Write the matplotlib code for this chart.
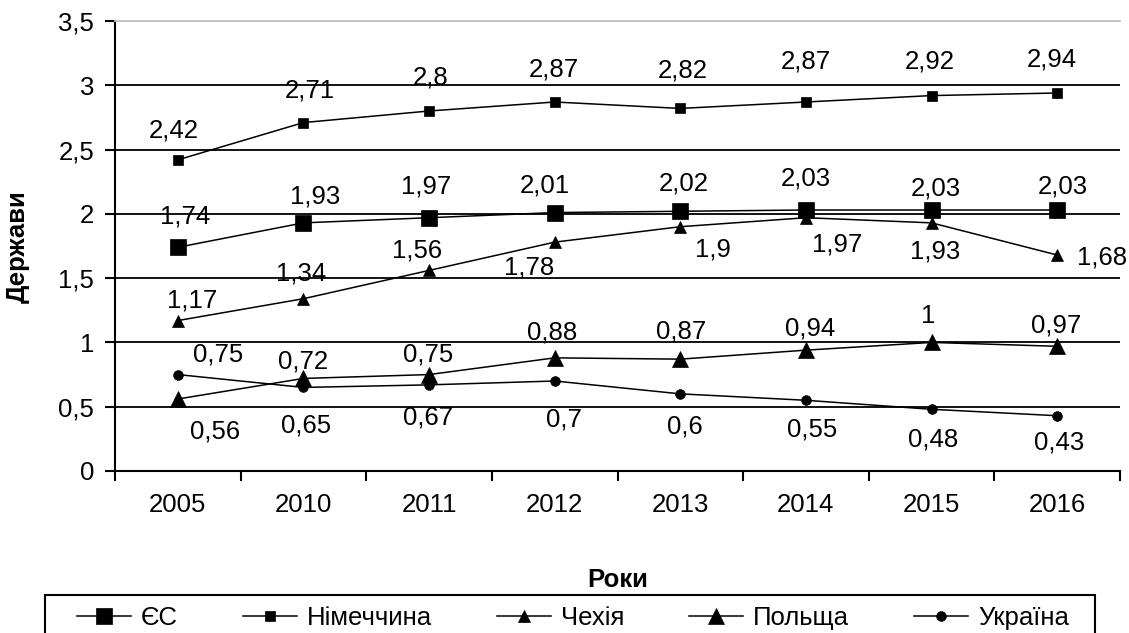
import matplotlib
matplotlib.use("Agg")
import matplotlib.pyplot as plt
import numpy as np
from matplotlib.patches import Rectangle

plt.rcParams['font.family'] = ['Liberation Sans', 'DejaVu Sans']

years = ['2005', '2010', '2011', '2012', '2013', '2014', '2015', '2016']
eu = [1.74, 1.93, 1.97, 2.01, 2.02, 2.03, 2.03, 2.03]
germany = [2.42, 2.71, 2.8, 2.87, 2.82, 2.87, 2.92, 2.94]
czech = [1.17, 1.34, 1.56, 1.78, 1.9, 1.97, 1.93, 1.68]
poland = [0.56, 0.72, 0.75, 0.88, 0.87, 0.94, 1, 0.97]
ukraine = [0.75, 0.65, 0.67, 0.7, 0.6, 0.55, 0.48, 0.43]

# where each value label sits relative to its point, pixels (right, down)
eu_off = [(7, -31), (12, -26), (-3, -31), (-10, -27), (3, -28), (0, -32), (4, -22), (6, -24)]
de_off = [(-4, -29), (6, -32), (2, -34), (-1, -33), (2, -38), (0, -41), (-2, -34), (-5, -34)]
cz_off = [(14, -20), (-2, -25), (-12, -20), (-26, 25), (33, 23), (31, 27), (4, 29), (45, 2)]
pl_off = [(37, 33), (0, -17), (-1, -20), (-3, -25), (1, -28), (4, -22), (-3, -26), (-1, -21)]
ua_off = [(40, -20), (3, 38), (-1, 33), (9, 38), (5, 33), (6, 29), (2, 30), (2, 27)]


def fmt(v):
    return ('%g' % v).replace('.', ',')


FS = 18.5
W, H = 1129, 633
fig = plt.figure(figsize=(W / 100, H / 100), dpi=100)
ax = fig.add_axes([115 / W, 1 - 471 / H, (1120 - 115) / W, 450 / H])

x = np.arange(len(years))
series = [
    ('ЄС', eu, 's', 12, eu_off),
    ('Німеччина', germany, 's', 7, de_off),
    ('Чехія', czech, '^', 9, cz_off),
    ('Польща', poland, '^', 12, pl_off),
    ('Україна', ukraine, 'o', 7, ua_off),
]

handles = []
for name, vals, mk, ms, offs in series:
    ln, = ax.plot(x, vals, color='black', lw=1.1, marker=mk, ms=ms,
                  mec='black', mfc='black', mew=0.5, label=name, zorder=3)
    handles.append(ln)
    for xi, v, (dx, dy) in zip(x, vals, offs):
        ax.annotate(fmt(v), (xi, v), xytext=(dx, -dy), textcoords='offset pixels',
                    ha='center', va='center', fontsize=FS, zorder=4)

ax.set_xlim(-0.5, 7.5)
ax.set_ylim(0, 3.5)

ax.set_xticks(np.arange(-0.5, 8, 1))
ax.set_xticklabels([])
ax.set_xticks(x, minor=True)
ax.set_xticklabels(years, minor=True)
ax.tick_params(axis='x', which='major', direction='out', length=7, width=1.5)
ax.tick_params(axis='x', which='minor', length=0, pad=16, labelsize=FS)

yt = np.arange(0, 3.51, 0.5)
ax.set_yticks(yt)
ax.set_yticklabels([fmt(v) for v in yt])
ax.tick_params(axis='y', direction='out', length=7, width=1.5, pad=8, labelsize=FS)

ax.set_axisbelow(True)
ax.grid(axis='y', color='black', lw=1.3)
ax.get_ygridlines()[-1].set_color('#c0c0c0')

ax.spines['right'].set_visible(False)
ax.spines['top'].set_color('#c0c0c0')
ax.spines['top'].set_linewidth(1.3)
ax.spines['left'].set_linewidth(1.5)
ax.spines['bottom'].set_linewidth(1.5)

fig.text(618 / W, 1 - 580 / H, 'Роки', fontsize=FS, fontweight='bold',
         ha='center', va='center')
fig.text(18 / W, 1 - 247 / H, 'Держави', fontsize=FS, fontweight='bold',
         rotation=90, ha='center', va='center')

# legend box (runs off the bottom of the picture like the original)
fig.patches.append(Rectangle((45 / W, -20 / H), 1050 / W, (633 - 595 + 20) / H,
                             transform=fig.transFigure, fill=False,
                             edgecolor='black', lw=1.5))
fig.legend(handles=handles, loc='upper left', ncol=5, mode='expand',
           bbox_to_anchor=(68 / W, 1 - 597 / H, 1010 / W, 0),
           borderaxespad=0, fontsize=FS, frameon=False,
           handlelength=2.1, handletextpad=0.4, borderpad=0.35,
           numpoints=1)

fig.savefig('out.png', dpi=100)
